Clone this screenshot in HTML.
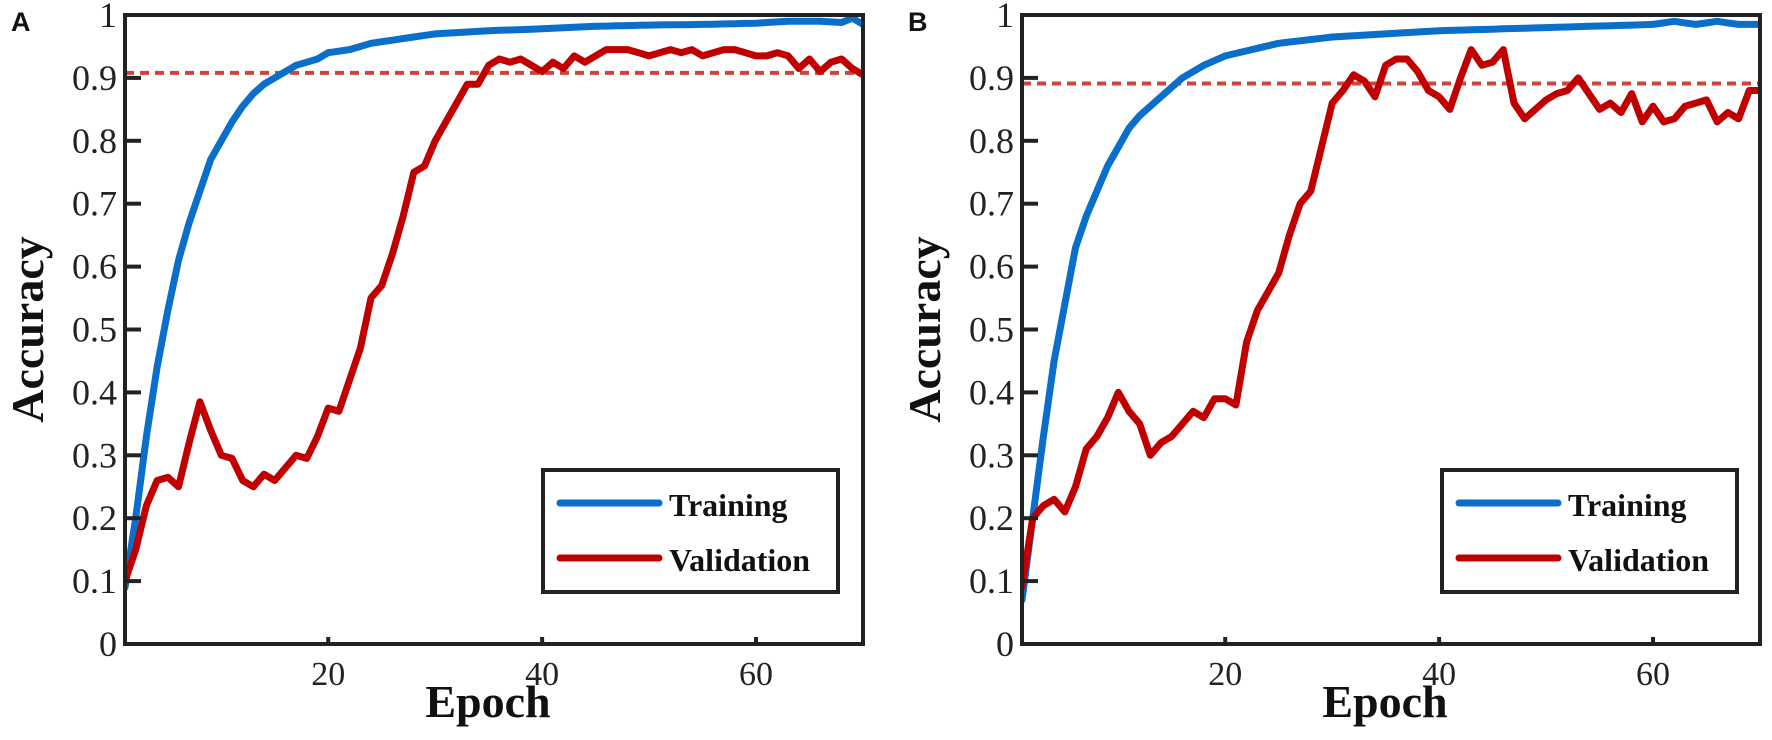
<!DOCTYPE html>
<html><head><meta charset="utf-8"><style>
html,body{margin:0;padding:0;background:#fff;}
svg{display:block;}
</style></head><body>
<svg id="s" width="1772" height="740" xmlns="http://www.w3.org/2000/svg" font-family="Liberation Serif, serif"></svg>
<script>
const S=document.getElementById('s');
const ns='http://www.w3.org/2000/svg';
function el(t,a,txt){const e=document.createElementNS(ns,t);for(const k in a)e.setAttribute(k,a[k]);if(txt!==undefined)e.textContent=txt;S.appendChild(e);return e;}
function interp(pts){const o=[];for(let i=0;i<pts.length-1;i++){const [x0,y0]=pts[i],[x1,y1]=pts[i+1];for(let x=x0;x<x1;x++)o.push([x,y0+(y1-y0)*(x-x0)/(x1-x0)]);}o.push(pts[pts.length-1]);return o;}
const trA=interp([[1,0.09],[2,0.2],[3,0.33],[4,0.44],[5,0.53],[6,0.61],[7,0.67],[8,0.72],[9,0.77],[10,0.8],[11,0.83],[12,0.855],[13,0.875],[14,0.89],[15,0.9],[16,0.91],[17,0.92],[18,0.925],[19,0.93],[20,0.94],[22,0.945],[24,0.955],[26,0.96],[28,0.965],[30,0.97],[32,0.972],[35,0.975],[40,0.978],[45,0.982],[50,0.984],[55,0.985],[60,0.987],[63,0.99],[66,0.99],[68,0.988],[69,0.995],[70,0.985]]);
const vaA=[0.1,0.15,0.22,0.26,0.265,0.25,0.32,0.385,0.34,0.3,0.295,0.26,0.25,0.27,0.26,0.28,0.3,0.295,0.33,0.375,0.37,0.42,0.47,0.55,0.57,0.62,0.68,0.75,0.76,0.8,0.83,0.86,0.89,0.89,0.92,0.93,0.925,0.93,0.92,0.91,0.925,0.915,0.935,0.925,0.935,0.945,0.945,0.945,0.94,0.935,0.94,0.945,0.94,0.945,0.935,0.94,0.945,0.945,0.94,0.935,0.935,0.94,0.935,0.915,0.93,0.91,0.925,0.93,0.915,0.905].map((v,i)=>[i+1,v]);
const trB=interp([[1,0.07],[2,0.2],[3,0.33],[4,0.45],[5,0.54],[6,0.63],[7,0.68],[8,0.72],[9,0.76],[10,0.79],[11,0.82],[12,0.84],[13,0.855],[14,0.87],[15,0.885],[16,0.9],[17,0.91],[18,0.92],[20,0.935],[25,0.955],[30,0.965],[40,0.975],[50,0.98],[60,0.985],[62,0.99],[64,0.985],[66,0.99],[68,0.985],[70,0.985]]);
const vaB=[0.09,0.2,0.22,0.23,0.21,0.25,0.31,0.33,0.36,0.4,0.37,0.35,0.3,0.32,0.33,0.35,0.37,0.36,0.39,0.39,0.38,0.48,0.53,0.56,0.59,0.65,0.7,0.72,0.79,0.86,0.88,0.905,0.895,0.87,0.92,0.93,0.93,0.91,0.88,0.87,0.85,0.9,0.945,0.92,0.925,0.945,0.86,0.835,0.85,0.865,0.875,0.88,0.9,0.875,0.85,0.86,0.845,0.875,0.83,0.855,0.83,0.835,0.855,0.86,0.865,0.83,0.845,0.835,0.88,0.88].map((v,i)=>[i+1,v]);
function panel(L,R,letter,thr,tr,va,legR){
  const T=15,B=644;
  const X=e=>L+(e-1)*(R-L)/69, Y=v=>B-v*(B-T);
  const clip='c'+letter;
  const cp=el('clipPath',{id:clip});const r=document.createElementNS(ns,'rect');r.setAttribute('x',L);r.setAttribute('y',T);r.setAttribute('width',R-L);r.setAttribute('height',B-T);cp.appendChild(r);
  el('line',{x1:L,y1:Y(thr),x2:R,y2:Y(thr),stroke:'#d0453a','stroke-width':4,'stroke-dasharray':'9 6'});
  const g=el('g',{'clip-path':'url(#'+clip+')'});
  [[tr,'#0a6ecb'],[va,'#c00000']].forEach(([d,c])=>{const p=document.createElementNS(ns,'polyline');p.setAttribute('points',d.map(q=>X(q[0]).toFixed(1)+','+Y(q[1]).toFixed(1)).join(' '));p.setAttribute('fill','none');p.setAttribute('stroke',c);p.setAttribute('stroke-width',7);p.setAttribute('stroke-linejoin','round');p.setAttribute('stroke-linecap','round');g.appendChild(p);});
  el('rect',{x:L,y:T,width:R-L,height:B-T,fill:'none',stroke:'#222','stroke-width':4});
  for(let i=0;i<=10;i++){const y=Y(i/10);if(i>0&&i<10)el('line',{x1:L,y1:y,x2:L+16,y2:y,stroke:'#222','stroke-width':4});
    el('text',{x:L-8,y:y+12,'text-anchor':'end','font-size':36,fill:'#222'},i==0?'0':i==10?'1':'0.'+i);}
  [20,40,60].forEach(e=>{const x=X(e);el('line',{x1:x,y1:B,x2:x,y2:B-7,stroke:'#222','stroke-width':4});el('text',{x:x,y:B+41,'text-anchor':'middle','font-size':34,fill:'#222'},e);});
  el('text',{x:(L+R)/2-6,y:B+73,'text-anchor':'middle','font-size':46,'font-weight':'bold',fill:'#111'},'Epoch');
  el('text',{x:0,y:0,transform:'translate('+(L-82)+','+((T+B)/2)+') rotate(-90)','text-anchor':'middle','font-size':46,'font-weight':'bold',fill:'#111'},'Accuracy');
  el('text',{x:L-114,y:31,'font-size':27,'font-weight':'bold','font-family':'Liberation Sans, sans-serif',fill:'#111'},letter);
  const lw=295,lt=470,lb=592,ll=legR-lw;
  el('rect',{x:ll,y:lt,width:lw,height:lb-lt,fill:'#fff',stroke:'#222','stroke-width':4});
  el('line',{x1:ll+17,y1:503,x2:ll+116,y2:503,stroke:'#0a6ecb','stroke-width':7,'stroke-linecap':'round'});
  el('line',{x1:ll+17,y1:558,x2:ll+116,y2:558,stroke:'#c00000','stroke-width':7,'stroke-linecap':'round'});
  el('text',{x:ll+126,y:516,'font-size':32,'font-weight':'bold',fill:'#111'},'Training');
  el('text',{x:ll+126,y:571,'font-size':32,'font-weight':'bold',fill:'#111'},'Validation');
}
panel(125,863,'A',0.908,trA,vaA,838);
panel(1022,1760,'B',0.891,trB,vaB,1737);
</script>
</body></html>
